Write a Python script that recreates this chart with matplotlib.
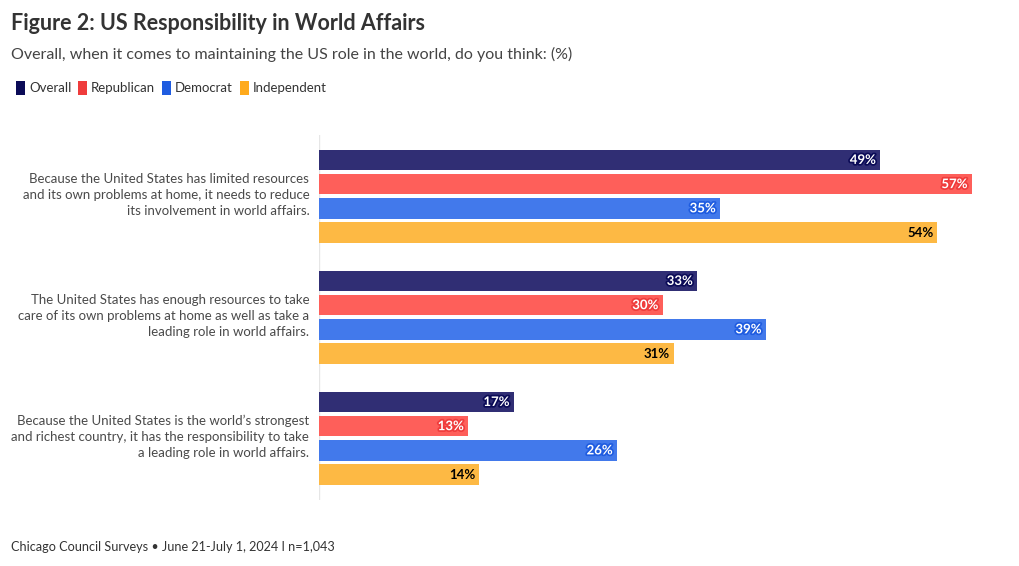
import matplotlib.pyplot as plt
import matplotlib.patheffects as pe
from matplotlib.patches import Patch

plt.rcParams['font.family'] = ['Lato', 'DejaVu Sans']

statements = [
    "Because the United States has limited resources\nand its own problems at home, it needs to reduce\nits involvement in world affairs.",
    "The United States has enough resources to take\ncare of its own problems at home as well as take a\nleading role in world affairs.",
    "Because the United States is the world\u2019s strongest\nand richest country, it has the responsibility to take\na leading role in world affairs.",
]
series = ["Overall", "Republican", "Democrat", "Independent"]
overall = [49, 33, 17]
republican = [57, 30, 13]
democrat = [35, 39, 26]
independent = [54, 31, 14]

bar_colors = ["#302e74", "#fe5f5a", "#4279eb", "#fdb944"]
key_colors = ["#0b0b57", "#ef3c3c", "#1f5ce0", "#ffaa1c"]
text_colors = ["white", "white", "white", "black"]

W, H = 1020, 566
fig = plt.figure(figsize=(W / 100, H / 100), dpi=100)
ax = fig.add_axes([319 / W, 1 - 500 / H, (1006 - 319) / W, (500 - 135) / H])

values = [overall, republican, democrat, independent]
group_step = 5
for j, vals in enumerate(values):
    ys = [g * group_step + j for g in range(len(statements))]
    ax.barh(ys, vals, height=0.84, color=bar_colors[j], zorder=2)
    for y, v in zip(ys, vals):
        t = ax.text(v - 0.35, y, f"{v}%", ha="right", va="center",
                    fontsize=9.5, fontweight="bold", color=text_colors[j], zorder=3)
        if j < 3:
            t.set_path_effects([pe.withStroke(linewidth=2.5, foreground=key_colors[j])])

ax.set_xlim(0, 60)
ax.set_ylim(2 * group_step + 3 + 1.05, -1.03)
for s in ax.spines.values():
    s.set_visible(False)
ax.axvline(0, color="#e6e6e6", lw=1, zorder=1)
ax.set_xticks([])
# labels sit a little above the group centre
ax.set_yticks([g * group_step + 1.5 - 0.17 for g in range(len(statements))])
ax.set_yticklabels(statements, fontsize=9.5, color="#4a4a4a", linespacing=1.4)
ax.tick_params(axis="y", length=0, pad=7)

fig.text(11 / W, 1 - 24 / H, "Figure 2: US Responsibility in World Affairs",
         fontsize=15.5, fontweight="bold", color="#333333", va="center")
fig.text(11 / W, 1 - 54 / H,
         "Overall, when it comes to maintaining the US role in the world, do you think: (%)",
         fontsize=11.5, color="#444444", va="center")
fig.text(11 / W, 1 - 547 / H, "Chicago Council Surveys \u2022 June 21-July 1, 2024 I n=1,043",
         fontsize=9.1, color="#333333", va="center")

handles = [Patch(facecolor=c, edgecolor="none") for c in key_colors]
fig.legend(handles, series, loc="center left", bbox_to_anchor=(4 / W, 1 - 88 / H),
           ncol=4, frameon=False, fontsize=9.5, handlelength=0.7, handleheight=1.2,
           handletextpad=0.3, columnspacing=0.5, labelcolor="#333333")

fig.savefig("out.png", dpi=100, facecolor="white")
